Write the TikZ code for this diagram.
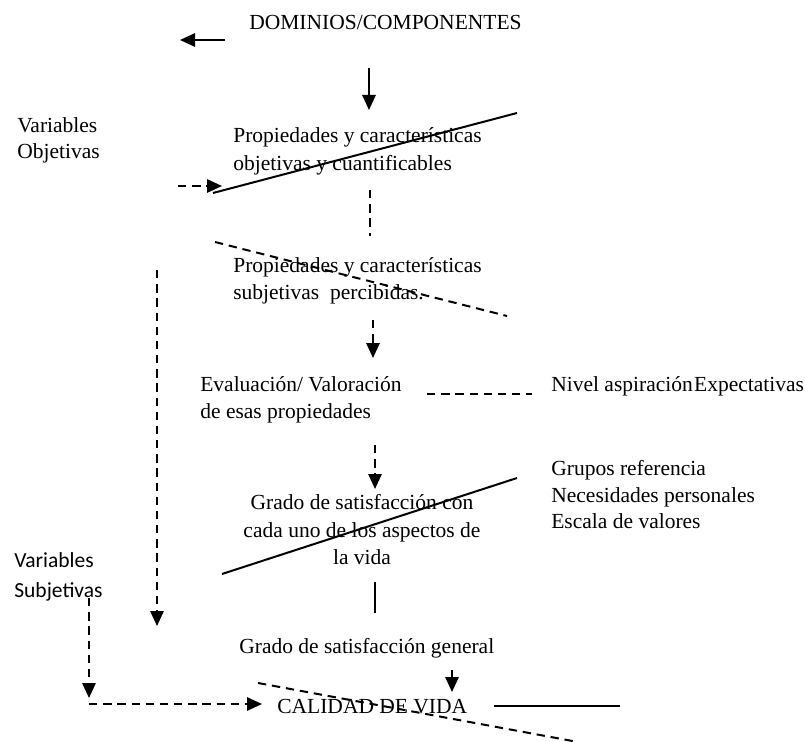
\documentclass[tikz,border=0pt]{standalone}
\usepackage{fontspec}
\setmainfont{Liberation Serif}
\newfontfamily\calibrifont{Carlito}
\usetikzlibrary{arrows.meta}

\tikzset{
  txt/.style={inner sep=0pt, align=left, font=\fontsize{12.9}{16.5}\selectfont},
  ctxt/.style={inner sep=0pt, align=center, font=\fontsize{12.9}{16.5}\selectfont},
  plain/.style={line width=1.2pt},
  dsh/.style={line width=1.2pt, dash pattern=on 5pt off 3.5pt},
  tip/.style={-{Triangle[length=9pt,width=8pt]}}
}

\begin{document}
\begin{tikzpicture}[x=0.6pt, y=-0.6pt]
		\useasboundingbox (0,0) rectangle (805,742);

		% texts
		\node[txt, anchor=west] (dom) at (249,22) {DOMINIOS/COMPONENTES};
		\node[txt, anchor=west, font=\rmfamily\fontsize{12.9}{15.6}\selectfont] (vobj) at (17,140) {Variables\\Objetivas};
		\node[txt, anchor=west, font=\fontsize{12.9}{16.8}\selectfont] (pobj) at (233,151) {Propiedades y características\\objetivas y cuantificables};
		\node[txt, anchor=west] (psub) at (233,281) {Propiedades y características\\subjetivas\ \ percibidas.};
		\node[txt, anchor=west] (eval) at (200,400) {Evaluación/ Valoración\\de esas propiedades};
		\node[txt, anchor=west] (nivel) at (551,386) {Nivel aspiración\kern0.8pt Expectativas};
		\node[txt, anchor=west, font=\fontsize{12.9}{15.9}\selectfont] (grupos) at (551,495) {Grupos referencia\\Necesidades personales\\Escala de valores};
		\node[txt, anchor=west, font=\calibrifont\fontsize{12.9}{18}\selectfont] (vsub) at (14,577) {Variables\\Subjetivas};
		\node[ctxt] (gcada) at (362,530) {Grado de satisfacción con\\cada uno de los aspectos de\\la vida};
		\node[txt, anchor=west] (ggen) at (239,648) {Grado de satisfacción general};
		\node[txt, anchor=west] (cal) at (277,707) {CALIDAD DE VIDA};

		% arrows
		\draw[plain, tip] (225,40) coordinate (domA) -- (180,40) coordinate (domB);
		\draw[plain, tip] (369,68) coordinate (d1) -- (369,110) coordinate (d2);
		\draw[dsh, tip] (178,186) coordinate (o1) -- (222,186) coordinate (o2);
		\draw[dsh] (370,190) coordinate (p1) -- (370,236) coordinate (p2);
		\draw[dsh, tip] (373,320) coordinate (s1) -- (373,358) coordinate (s2);
		\draw[dsh, tip] (157,270) coordinate (l1) -- (157,626) coordinate (l2);
		\draw[dsh] (427,394) coordinate (n1) -- (532,394) coordinate (n2);
		\draw[dsh, tip] (375,445) coordinate (e1) -- (375,489) coordinate (e2);
		\draw[plain] (375,582) coordinate (g1) -- (375,613) coordinate (g2);
		\draw[plain, tip] (452,670) coordinate (h1) -- (452,692) coordinate (h2);
		\draw[dsh, tip] (89,598) coordinate (v1) -- (89,698) coordinate (v2);
		\draw[dsh, tip] (89,704) -- (262,704) coordinate (v3);
		\draw[plain] (494,706) coordinate (c1) -- (620,706) coordinate (c2);

		% crossing lines
		\draw[plain] (213,193) -- (517,113);
		\draw[dsh] (215,242) -- (507,316);
		\draw[plain] (222,574) -- (517,478);
		\draw[dsh] (258,683) -- (578,742);
\end{tikzpicture}
\end{document}
